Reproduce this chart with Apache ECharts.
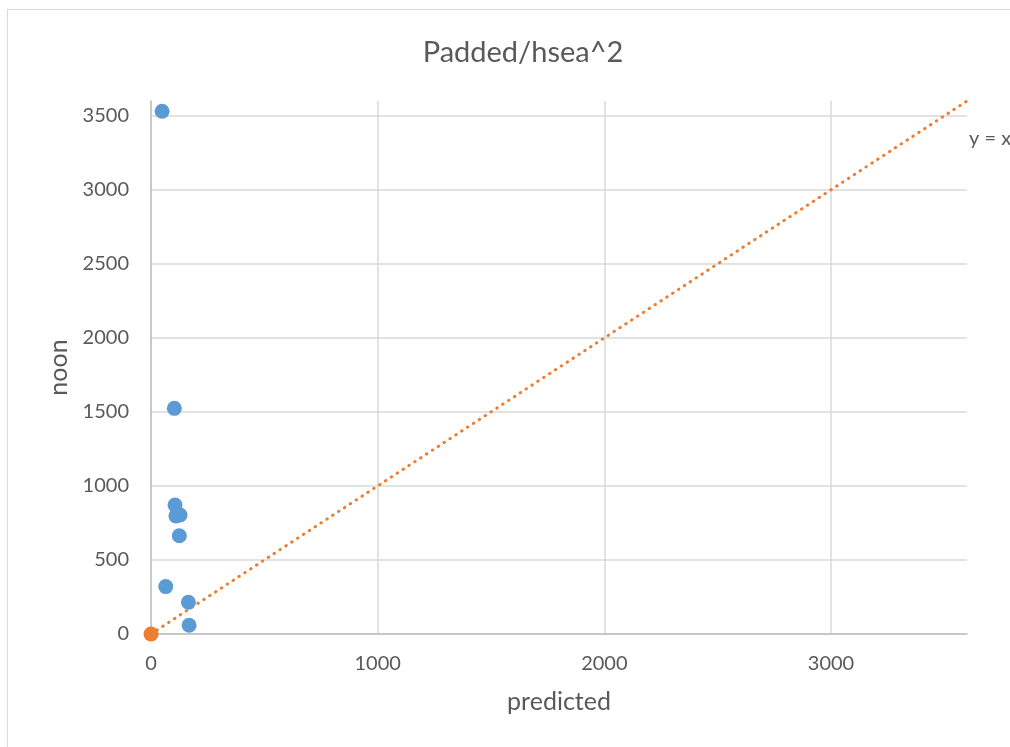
<!DOCTYPE html>
<html>
<head>
<meta charset="utf-8">
<script src="https://cdn.jsdelivr.net/npm/echarts@6/dist/echarts.min.js"></script>
<style>
  html, body { margin: 0; padding: 0; background: #ffffff; overflow: hidden; }
  #wrap { position: relative; width: 1010px; height: 747px; overflow: hidden; }
  #frame {
    position: absolute; left: 7px; top: 9px; width: 1100px; height: 900px;
    border: 1.5px solid #d9d9d9; box-sizing: border-box;
  }
  #chart { position: absolute; left: 0; top: 0; width: 1010px; height: 747px; }
</style>
</head>
<body>
<div id="wrap">
  <div id="frame"></div>
  <div id="chart"></div>
</div>
<script>
// Observed noon values against predicted values
const predicted = [49, 103, 106, 110, 128, 125, 65, 165, 168];
const noon = [3531, 1524, 871, 797, 804, 664, 320, 214, 59];

// Reference line y = x
const refX = [0, 3600];
const refY = [0, 3600];

// Origin marker
const originX = [0];
const originY = [0];

const xTicks = [0, 1000, 2000, 3000];
const yTicks = [0, 500, 1000, 1500, 2000, 2500, 3000, 3500];

const FONT = 'Lato, "Open Sans", sans-serif';
const TEXT = '#595959';

const chart = echarts.init(document.getElementById('chart'), null, { renderer: 'canvas' });

chart.setOption({
  backgroundColor: 'transparent',
  animation: false,
  title: {
    text: 'Padded/hsea^2',
    left: 518,
    top: 33,
    textAlign: 'center',
    textStyle: { fontFamily: FONT, fontSize: 29, fontWeight: 'normal', color: TEXT }
  },
  graphic: [
    {
      type: 'text',
      left: 969,
      top: 129,
      style: { text: 'y = x', fontFamily: FONT, fontSize: 20, fill: TEXT }
    }
  ],
  grid: { left: 151, right: 43, top: 101, bottom: 113, containLabel: false },
  xAxis: {
    type: 'value',
    min: 0,
    max: 3600,
    interval: 1000,
    name: 'predicted',
    nameLocation: 'middle',
    nameGap: 55,
    nameTextStyle: { fontFamily: FONT, fontSize: 25, color: TEXT },
    axisLine: { show: true, onZero: false, lineStyle: { color: '#bfbfbf', width: 1.5 } },
    axisTick: { show: false },
    axisLabel: {
      fontFamily: FONT, fontSize: 20, color: TEXT, margin: 20,
      showMaxLabel: false,
      formatter: v => (xTicks.includes(v) ? String(v) : '')
    },
    splitLine: { show: true, showMaxLine: false, lineStyle: { color: '#d9d9d9', width: 1.5 } }
  },
  yAxis: {
    type: 'value',
    min: 0,
    max: 3600,
    interval: 500,
    name: 'noon',
    nameLocation: 'middle',
    nameGap: 78,
    nameRotate: 90,
    nameTextStyle: { fontFamily: FONT, fontSize: 25, color: TEXT },
    axisLine: { show: true, onZero: false, lineStyle: { color: '#bfbfbf', width: 1.5 } },
    axisTick: { show: false },
    axisLabel: {
      fontFamily: FONT, fontSize: 20, color: TEXT, margin: 22,
      showMaxLabel: false,
      formatter: v => (yTicks.includes(v) ? String(v) : '')
    },
    splitLine: { show: true, showMaxLine: false, lineStyle: { color: '#d9d9d9', width: 1.5 } }
  },
  series: [
    {
      name: 'y = x',
      type: 'line',
      data: refX.map((x, i) => [x, refY[i]]),
      symbol: 'none',
      lineStyle: { color: '#ed7d31', width: 3, type: [0.5, 6.5], cap: 'round' },
      z: 3
    },
    {
      name: 'noon',
      type: 'scatter',
      data: predicted.map((x, i) => [x, noon[i]]),
      symbol: 'circle',
      symbolSize: 15,
      itemStyle: { color: '#5b9bd5', opacity: 1 },
      z: 4
    },
    {
      name: 'origin',
      type: 'scatter',
      data: originX.map((x, i) => [x, originY[i]]),
      symbol: 'circle',
      symbolSize: 15,
      itemStyle: { color: '#ed7d31', opacity: 1 },
      z: 5
    }
  ]
});
</script>
</body>
</html>
